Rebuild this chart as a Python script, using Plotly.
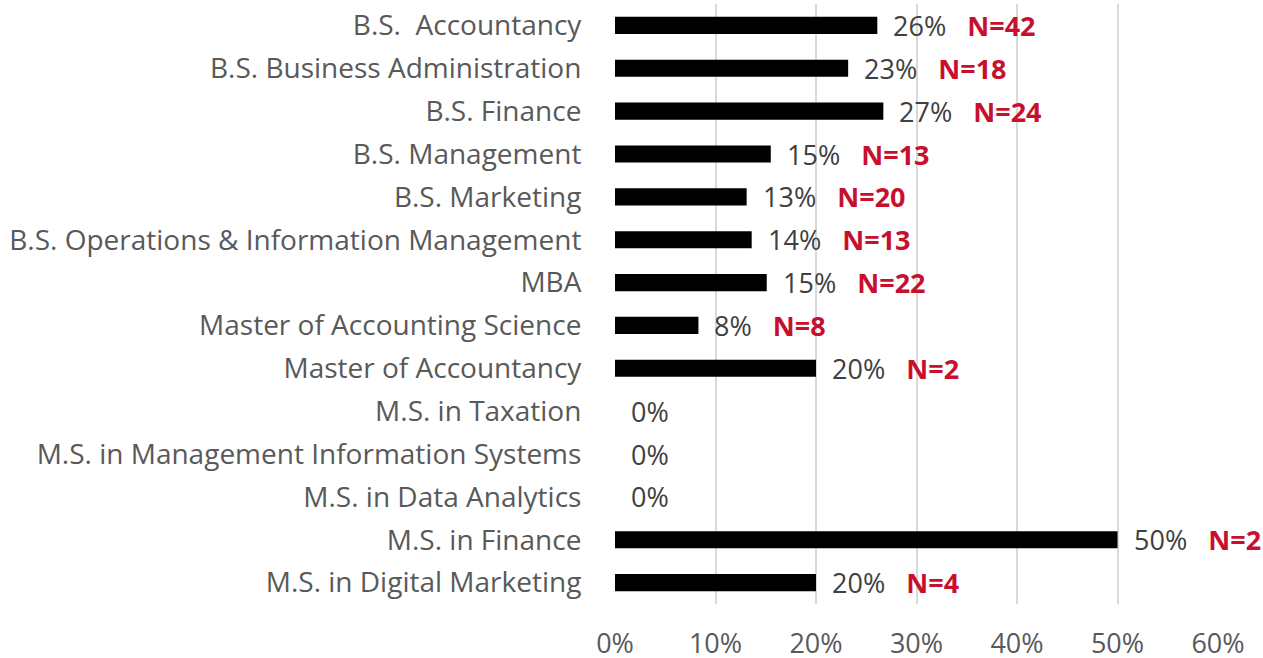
import plotly.graph_objects as go

programs = [
    "B.S.  Accountancy",
    "B.S. Business Administration",
    "B.S. Finance",
    "B.S. Management",
    "B.S. Marketing",
    "B.S. Operations & Information Management",
    "MBA",
    "Master of Accounting Science",
    "Master of Accountancy",
    "M.S. in Taxation",
    "M.S. in Management Information Systems",
    "M.S. in Data Analytics",
    "M.S. in Finance",
    "M.S. in Digital Marketing",
]
shares = [0.261, 0.232, 0.267, 0.155, 0.131, 0.136, 0.151, 0.083, 0.20, 0.0, 0.0, 0.0, 0.50, 0.20]
pct_labels = ["26%", "23%", "27%", "15%", "13%", "14%", "15%", "8%", "20%", "0%", "0%", "0%", "50%", "20%"]
n_labels = ["N=42", "N=18", "N=24", "N=13", "N=20", "N=13", "N=22", "N=8", "N=2", "", "", "", "N=2", "N=4"]
x_ticks = [0, 0.1, 0.2, 0.3, 0.4, 0.5, 0.6]
x_tick_text = ["0%", "10%", "20%", "30%", "40%", "50%", "60%"]

FONT = "Open Sans"
RED = "#C8102E"

fig = go.Figure(go.Bar(
    x=shares, y=programs, orientation="h",
    marker=dict(color="#000000", line=dict(width=0)),
    hoverinfo="skip",
))

for p, v, pl, nl in zip(programs, shares, pct_labels, n_labels):
    txt = pl
    if nl:
        txt += "\u00a0\u00a0\u00a0<b><span style='color:%s'>%s</span></b>" % (RED, nl)
    fig.add_annotation(
        x=v, y=p, xref="x", yref="y", text=txt, showarrow=False,
        xanchor="left", yanchor="middle", xshift=14, yshift=0,
        font=dict(family=FONT, size=27, color="#404040"),
    )

fig.update_layout(
    width=1263, height=658,
    margin=dict(l=615, r=45, t=4, b=54),
    paper_bgcolor="white", plot_bgcolor="white",
    bargap=0.6, showlegend=False,
    font=dict(family=FONT, color="#595959"),
)
fig.update_xaxes(
    range=[0, 0.6], tickvals=x_ticks, ticktext=x_tick_text, automargin=False,
    showgrid=True, gridcolor="#D9D9D9", gridwidth=1.5,
    zeroline=False, showline=False,
    ticks="outside", ticklen=16, tickcolor="rgba(0,0,0,0)",
    tickfont=dict(family=FONT, size=27, color="#595959"),
)
fig.update_yaxes(
    autorange="reversed", showgrid=False, zeroline=False, showline=False, automargin=False,
    ticks="outside", ticklen=27, tickcolor="rgba(0,0,0,0)",
    tickfont=dict(family=FONT, size=28, color="#595959"),
)

fig.write_html("out.html", config={"displayModeBar": False},
               post_script="document.body.style.margin='0';")
